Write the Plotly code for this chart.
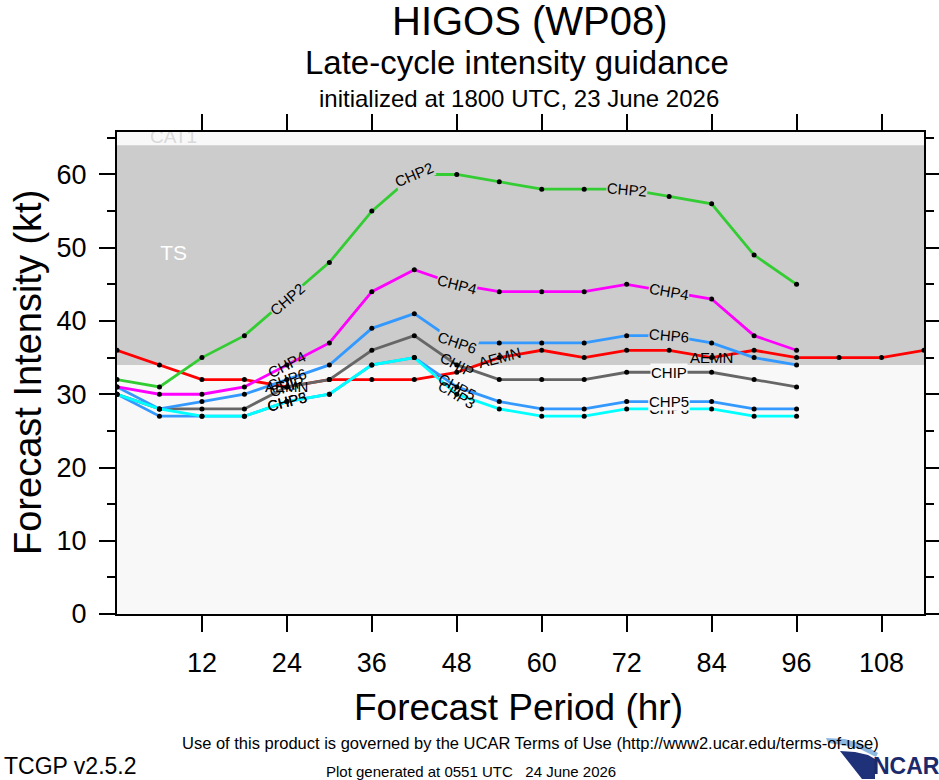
import math
import plotly.graph_objects as go

# ---------------- data ----------------
hours = [0, 6, 12, 18, 24, 30, 36, 42, 48, 54, 60, 66, 72, 78, 84, 90, 96, 102, 108, 114]
tick_hours = [12, 24, 36, 48, 60, 72, 84, 96, 108]
tick_kt = [0, 10, 20, 30, 40, 50, 60]

aemn = [36, 34, 32, 32, 31, 32, 32, 32, 33, 35, 36, 35, 36, 36, 35, 36, 35, 35, 35, 36]
chip = [30, 28, 28, 28, 31, 32, 36, 38, 34, 32, 32, 32, 33, 33, 33, 32, 31]
chp5 = [30, 27, 27, 27, 29, 30, 34, 35, 31, 29, 28, 28, 29, 29, 29, 28, 28]
chp6 = [31, 28, 29, 30, 32, 34, 39, 41, 37, 37, 37, 37, 38, 38, 37, 35, 34]
chp4 = [31, 30, 30, 31, 34, 37, 44, 47, 45, 44, 44, 44, 45, 44, 43, 38, 36]
chp3 = [30, 28, 27, 27, 29, 30, 34, 35, 30, 28, 27, 27, 28, 28, 28, 27, 27]
chp2 = [32, 31, 35, 38, 43, 48, 55, 60, 60, 59, 58, 58, 58, 57, 56, 49, 45]

model_names = ["AEMN", "CHIP", "CHP5", "CHP6", "CHP4", "CHP3", "CHP2"]
model_values = [aemn, chip, chp5, chp6, chp4, chp3, chp2]
model_colors = ["#ff0000", "#666666", "#3399ff", "#3399ff", "#ff00ff", "#00ffff", "#33cc33"]

# hours at which each model carries an inline label
label_hours = {
    "AEMN": [24, 54, 84],
    "CHIP": [24, 48, 78],
    "CHP5": [24, 48, 78],
    "CHP6": [24, 48, 78],
    "CHP4": [24, 48, 78],
    "CHP3": [24, 48, 78],
    "CHP2": [24, 42, 72],
}
label_order = ["CHP3", "CHP5", "CHIP", "AEMN", "CHP6", "CHP4", "CHP2"]
# labels drawn without a background box (crowded spots)
no_box = {("AEMN", 24), ("CHIP", 24), ("CHP5", 24), ("CHP6", 24), ("CHP3", 24),
          ("CHP4", 24), ("CHIP", 48), ("CHP5", 48), ("CHP3", 48), ("AEMN", 54), ("AEMN", 84)}

ts_low, ts_high = 34, 64

# ---------------- layout geometry ----------------
W, H = 939, 780
L, R, T, B = 117, 15, 132, 166
X_MAX, Y_MAX = 114, 65.8
PW, PH = W - L - R, H - T - B
pph = PW / X_MAX
ppk = PH / Y_MAX
FONT = "Liberation Sans, Arial, Helvetica, sans-serif"
GREY = "#cccccc"
LIGHT = "#f8f8f8"


def paper(px, py):
    return (px - L) / PW, (H - B - py) / PH


fig = go.Figure()

# lines
for name, vals, col in zip(model_names, model_values, model_colors):
    fig.add_trace(go.Scatter(x=hours[:len(vals)], y=vals, mode="lines",
                             line=dict(color=col, width=2.8), name=name,
                             hoverinfo="skip", showlegend=False))
# dots
for name, vals in zip(model_names, model_values):
    fig.add_trace(go.Scatter(x=hours[:len(vals)], y=vals, mode="markers",
                             marker=dict(color="black", size=5), showlegend=False,
                             hoverinfo="skip"))

# band labels (clipped to plot area)
fig.add_trace(go.Scatter(x=[8], y=[49], mode="text", text=["TS"],
                         textfont=dict(family=FONT, size=21, color="white"),
                         showlegend=False, hoverinfo="skip", cliponaxis=True))
fig.add_trace(go.Scatter(x=[8], y=[65.0], mode="text", text=["CAT1"],
                         textfont=dict(family=FONT, size=19, color="#d9d9d9"),
                         showlegend=False, hoverinfo="skip", cliponaxis=True))

values_by_name = dict(zip(model_names, model_values))
annotations = []
# inline line labels
for name in label_order:
    vals = values_by_name[name]
    for hr in label_hours[name]:
        i = hours.index(hr)
        i0, i1 = max(i - 1, 0), min(i + 1, len(vals) - 1)
        ang = -math.degrees(math.atan2((vals[i1] - vals[i0]) * ppk,
                                       (hours[i1] - hours[i0]) * pph))
        if (name, hr) in no_box:
            bg = "rgba(0,0,0,0)"
        else:
            bg = GREY if vals[i] > ts_low else LIGHT
        annotations.append(dict(x=hr, y=vals[i], xref="x", yref="y", text=name,
                                showarrow=False, textangle=ang, bgcolor=bg, borderpad=0,
                                font=dict(family=FONT, size=15, color="black")))


def add_text(txt, px, py, size, xanchor="center", angle=0, color="black", family=FONT):
    x, y = paper(px, py)
    annotations.append(dict(x=x, y=y, xref="paper", yref="paper", text=txt, showarrow=False,
                            xanchor=xanchor, yanchor="middle", textangle=angle,
                            font=dict(family=family, size=size, color=color)))


add_text("HIGOS (WP08)", 530, 21, 40)
add_text("Late-cycle intensity guidance", 517, 62, 33)
add_text("initialized at 1800 UTC, 23 June 2026", 519, 98, 24)
add_text("Forecast Intensity (kt)", 28, 373, 38, angle=-90)
add_text("Forecast Period (hr)", 518, 707, 37)
add_text("Use of this product is governed by the UCAR Terms of Use (http://www2.ucar.edu/terms-of-use)",
         530, 743, 16.5)
add_text("TCGP v2.5.2", 2, 766, 23, xanchor="left")
add_text("Plot generated at 0551 UTC&nbsp;&nbsp;&nbsp;24 June 2026", 471, 771, 15)
add_text("<b>NCAR</b>", 906, 766, 23, color="#1b2a6b")

shapes = [
    dict(type="rect", xref="paper", yref="y", x0=0, x1=1, y0=ts_low, y1=ts_high,
         fillcolor=GREY, line=dict(width=0), layer="below"),
]


def path_from(points):
    parts = []
    for k, (px, py) in enumerate(points):
        x, y = paper(px, py)
        parts.append(("M" if k == 0 else "L") + f"{x:.5f},{y:.5f}")
    return " ".join(parts) + " Z"


# NCAR logo swoosh
shapes.append(dict(type="path", xref="paper", yref="paper",
                   path=path_from([(826, 738), (845, 739), (862, 744), (878, 753), (876, 757),
                                   (860, 749), (843, 745), (828, 743)]),
                   fillcolor="#8fb8e0", line=dict(width=0)))
shapes.append(dict(type="path", xref="paper", yref="paper",
                   path=path_from([(840, 751), (855, 752), (868, 755), (875, 759), (875, 779),
                                   (862, 779)]),
                   fillcolor="#1f3178", line=dict(width=0)))

fig.update_layout(
    width=W, height=H,
    margin=dict(l=L, r=R, t=T, b=B, autoexpand=False),
    paper_bgcolor="white", plot_bgcolor=LIGHT,
    showlegend=False,
    annotations=annotations,
    shapes=shapes,
    font=dict(family=FONT, color="black"),
)
fig.update_xaxes(range=[0, X_MAX], tickmode="array", tickvals=tick_hours,
                 ticktext=[str(h) for h in tick_hours],
                 ticks="outside", ticklen=16, tickwidth=1.5, tickcolor="black",
                 showline=True, linecolor="black", linewidth=2, mirror="ticks",
                 showgrid=False, zeroline=False, ticklabelstandoff=8,
                 tickfont=dict(family=FONT, size=27, color="black"))
fig.update_yaxes(range=[0, Y_MAX], tickmode="array", tickvals=tick_kt,
                 ticktext=[str(v) for v in tick_kt],
                 ticks="outside", ticklen=16, tickwidth=1.5, tickcolor="black",
                 minor=dict(dtick=5, tick0=0, ticks="outside", ticklen=8, tickwidth=1.5,
                            tickcolor="black", showgrid=False),
                 showline=True, linecolor="black", linewidth=2, mirror="ticks",
                 showgrid=False, zeroline=False, ticklabelstandoff=7,
                 tickfont=dict(family=FONT, size=27, color="black"))

fig.write_html("out.html", post_script="document.body.style.margin='0';",
               config={"displayModeBar": False})
